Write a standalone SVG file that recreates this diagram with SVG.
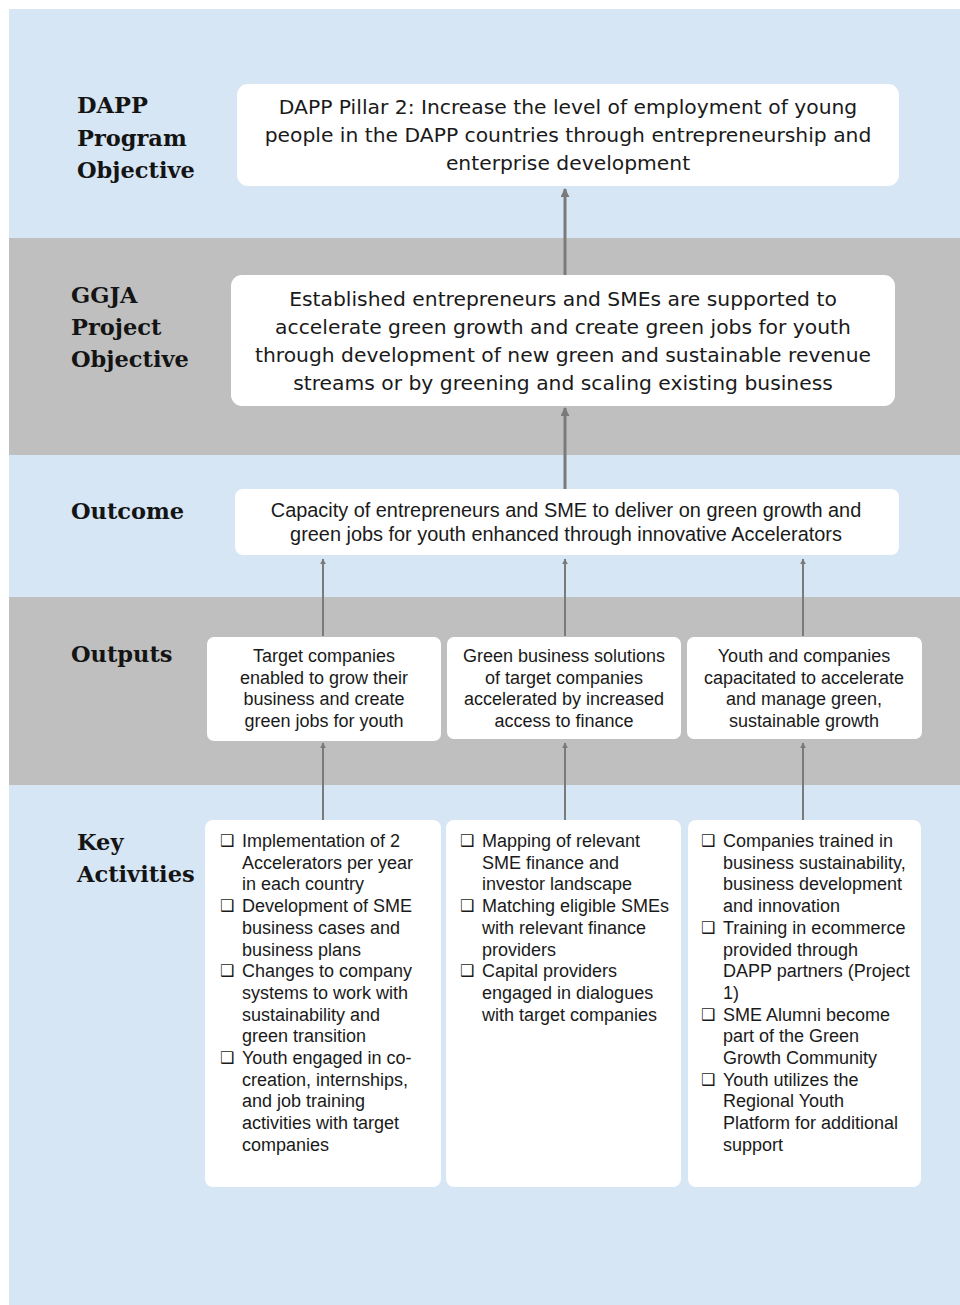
<svg xmlns="http://www.w3.org/2000/svg" width="960" height="1305" viewBox="0 0 960 1305">
  <defs>
    <marker id="arrow" viewBox="0 0 10 10" refX="9" refY="5" markerWidth="3" markerHeight="3" orient="auto" markerUnits="strokeWidth">
      <path d="M0,0 L10,5 L0,10 z" fill="#7a7a7a"/>
    </marker>
    <style>
      .band-blue { fill: #d6e6f4; }
      .band-gray { fill: #bfbfbf; }
      .box { fill: #ffffff; }
      .lab { font-family: "DejaVu Serif", "Liberation Serif", serif; font-weight: bold; font-size: 22.5px; fill: #141414; }
      .obj { font-family: "DejaVu Sans", "Liberation Sans", sans-serif; font-size: 20.3px; fill: #1a1a1a; text-anchor: middle; }
      .out { font-family: "Liberation Sans", "DejaVu Sans", sans-serif; font-size: 19.9px; fill: #1a1a1a; text-anchor: middle; }
      .op { font-family: "Liberation Sans", "DejaVu Sans", sans-serif; font-size: 18px; fill: #1a1a1a; text-anchor: middle; }
      .act { font-family: "Liberation Sans", "DejaVu Sans", sans-serif; font-size: 18px; fill: #1a1a1a; }
      .chk { font-family: "DejaVu Sans", sans-serif; font-size: 16px; fill: #1a1a1a; }
      .conn-main { stroke: #7a7a7a; stroke-width: 3; fill: none; marker-end: url(#arrow); }
      .conn { stroke: #7a7a7a; stroke-width: 2; fill: none; marker-end: url(#arrow); }
    </style>
  </defs>

  <!-- page -->
  <rect x="0" y="0" width="960" height="1305" fill="#ffffff"/>

  <!-- level bands -->
  <g id="bands">
    <rect class="band-blue" x="9" y="9" width="951" height="229"/>
    <rect class="band-gray" x="9" y="238" width="951" height="217"/>
    <rect class="band-blue" x="9" y="455" width="951" height="142"/>
    <rect class="band-gray" x="9" y="597" width="951" height="188"/>
    <rect class="band-blue" x="9" y="785" width="951" height="520"/>
  </g>

  <!-- level labels -->
  <g id="labels">
    <text class="lab" x="77" y="113">DAPP<tspan x="77" y="146">Program</tspan><tspan x="77" y="178">Objective</tspan></text>
    <text class="lab" x="71" y="303">GGJA<tspan x="71" y="335">Project</tspan><tspan x="71" y="367">Objective</tspan></text>
    <text class="lab" x="71" y="519">Outcome</text>
    <text class="lab" x="71" y="662">Outputs</text>
    <text class="lab" x="77" y="850">Key<tspan x="77" y="882">Activities</tspan></text>
  </g>

  <!-- connectors -->
  <g id="connectors">
    <line class="conn-main" x1="565" y1="275" x2="565" y2="189"/>
    <line class="conn-main" x1="565" y1="489" x2="565" y2="408"/>
    <line class="conn" x1="323" y1="636" x2="323" y2="559"/>
    <line class="conn" x1="565" y1="636" x2="565" y2="559"/>
    <line class="conn" x1="803" y1="636" x2="803" y2="559"/>
    <line class="conn" x1="323" y1="820" x2="323" y2="743"/>
    <line class="conn" x1="565" y1="820" x2="565" y2="743"/>
    <line class="conn" x1="803" y1="820" x2="803" y2="743"/>
  </g>

  <!-- DAPP program objective -->
  <g id="dapp-objective">
    <rect class="box" x="237" y="84" width="662" height="102" rx="11"/>
    <text class="obj" x="568" y="114">DAPP Pillar 2: Increase the level of employment of young<tspan x="568" y="142">people in the DAPP countries through entrepreneurship and</tspan><tspan x="568" y="170">enterprise development</tspan></text>
  </g>

  <!-- GGJA project objective -->
  <g id="ggja-objective">
    <rect class="box" x="231" y="275" width="664" height="131" rx="11"/>
    <text class="obj" x="563" y="306">Established entrepreneurs and SMEs are supported to<tspan x="563" y="334">accelerate green growth and create green jobs for youth</tspan><tspan x="563" y="362">through development of new green and sustainable revenue</tspan><tspan x="563" y="390">streams or by greening and scaling existing business</tspan></text>
  </g>

  <!-- outcome -->
  <g id="outcome">
    <rect class="box" x="235" y="489" width="664" height="66" rx="8"/>
    <text class="out" x="566" y="517">Capacity of entrepreneurs and SME to deliver on green growth and<tspan x="566" y="541">green jobs for youth enhanced through innovative Accelerators</tspan></text>
  </g>

  <!-- outputs -->
  <g id="output-1">
    <rect class="box" x="207" y="637" width="234" height="104" rx="7"/>
    <text class="op" x="324" y="662">Target companies<tspan x="324" y="683.5">enabled to grow their</tspan><tspan x="324" y="705">business and create</tspan><tspan x="324" y="726.5">green jobs for youth</tspan></text>
  </g>
  <g id="output-2">
    <rect class="box" x="447" y="637" width="234" height="102" rx="7"/>
    <text class="op" x="564" y="662">Green business solutions<tspan x="564" y="683.5">of target companies</tspan><tspan x="564" y="705">accelerated by increased</tspan><tspan x="564" y="726.5">access to finance</tspan></text>
  </g>
  <g id="output-3">
    <rect class="box" x="687" y="637" width="235" height="102" rx="7"/>
    <text class="op" x="804" y="662">Youth and companies<tspan x="804" y="683.5">capacitated to accelerate</tspan><tspan x="804" y="705">and manage green,</tspan><tspan x="804" y="726.5">sustainable growth</tspan></text>
  </g>

  <!-- key activities -->
  <g id="activities-1">
    <rect class="box" x="205" y="820" width="236" height="367" rx="8"/>
    <text class="chk" x="220" y="846">❑</text>
    <text class="chk" x="220" y="911">❑</text>
    <text class="chk" x="220" y="976">❑</text>
    <text class="chk" x="220" y="1063">❑</text>
    <text class="act" x="242" y="847">Implementation of 2<tspan x="242" y="868.7">Accelerators per year</tspan><tspan x="242" y="890.4">in each country</tspan><tspan x="242" y="912.1">Development of SME</tspan><tspan x="242" y="933.8">business cases and</tspan><tspan x="242" y="955.5">business plans</tspan><tspan x="242" y="977.2">Changes to company</tspan><tspan x="242" y="998.9">systems to work with</tspan><tspan x="242" y="1020.6">sustainability and</tspan><tspan x="242" y="1042.3">green transition</tspan><tspan x="242" y="1064">Youth engaged in co-</tspan><tspan x="242" y="1085.7">creation, internships,</tspan><tspan x="242" y="1107.4">and job training</tspan><tspan x="242" y="1129.1">activities with target</tspan><tspan x="242" y="1150.8">companies</tspan></text>
  </g>
  <g id="activities-2">
    <rect class="box" x="446" y="820" width="235" height="367" rx="8"/>
    <text class="chk" x="460" y="846">❑</text>
    <text class="chk" x="460" y="911">❑</text>
    <text class="chk" x="460" y="976">❑</text>
    <text class="act" x="482" y="847">Mapping of relevant<tspan x="482" y="868.7">SME finance and</tspan><tspan x="482" y="890.4">investor landscape</tspan><tspan x="482" y="912.1">Matching eligible SMEs</tspan><tspan x="482" y="933.8">with relevant finance</tspan><tspan x="482" y="955.5">providers</tspan><tspan x="482" y="977.2">Capital providers</tspan><tspan x="482" y="998.9">engaged in dialogues</tspan><tspan x="482" y="1020.6">with target companies</tspan></text>
  </g>
  <g id="activities-3">
    <rect class="box" x="688" y="820" width="233" height="367" rx="8"/>
    <text class="chk" x="701" y="846">❑</text>
    <text class="chk" x="701" y="933">❑</text>
    <text class="chk" x="701" y="1020">❑</text>
    <text class="chk" x="701" y="1085">❑</text>
    <text class="act" x="723" y="847">Companies trained in<tspan x="723" y="868.7">business sustainability,</tspan><tspan x="723" y="890.4">business development</tspan><tspan x="723" y="912.1">and innovation</tspan><tspan x="723" y="933.8">Training in ecommerce</tspan><tspan x="723" y="955.5">provided through</tspan><tspan x="723" y="977.2">DAPP partners (Project</tspan><tspan x="723" y="998.9">1)</tspan><tspan x="723" y="1020.6">SME Alumni become</tspan><tspan x="723" y="1042.3">part of the Green</tspan><tspan x="723" y="1064">Growth Community</tspan><tspan x="723" y="1085.7">Youth utilizes the</tspan><tspan x="723" y="1107.4">Regional Youth</tspan><tspan x="723" y="1129.1">Platform for additional</tspan><tspan x="723" y="1150.8">support</tspan></text>
  </g>
</svg>
